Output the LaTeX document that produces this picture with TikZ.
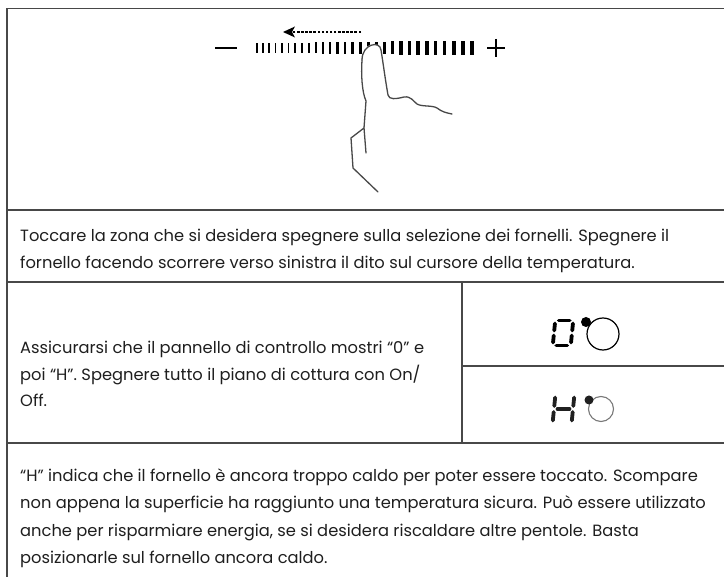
\documentclass[tikz,border=0pt]{standalone}
\usepackage{fontspec}
\setmainfont{Poppins}

\definecolor{ruleclr}{RGB}{72,72,72}
\definecolor{textclr}{RGB}{30,30,30}
\definecolor{ringgrey}{RGB}{120,120,120}

\tikzset{
  rule/.style={ruleclr,line width=1.4pt},
  txt/.style={anchor=base west,inner sep=0pt,text=textclr,font=\fontsize{16.3}{27}\selectfont},
  seg/.style={line width=3.8pt,line cap=round},
  hand/.style={line width=1.3pt,ruleclr,line cap=round,line join=round}
}

\begin{document}
\begin{tikzpicture}[x=1pt,y=-1pt]
  \useasboundingbox (0,0) rectangle (724,577);

  % table rules
  \draw[rule] (7,8.5) -- (724,8.5);
  \draw[rule] (7,8.5) -- (7,577);
  \draw[rule] (7,210) -- (724,210);
  \draw[rule] (7,282) -- (724,282);
  \draw[rule] (7,443) -- (724,443);
  \draw[rule] (462,282) -- (462,443);
  \draw[rule] (462,366) -- (724,366);

  % slider: minus, bars, plus
  \draw[line width=2pt] (215,48) -- (237,48);
  \foreach \i in {0,...,28}{
    \pgfmathsetmacro\bx{257+6*\i+0.06*\i*\i}
    \pgfmathsetmacro\bw{1.3+0.1*\i}
    \pgfmathsetmacro\bh{4.6+0.1*\i}
    \fill (\bx-\bw/2,48-\bh) rectangle (\bx+\bw/2,48+\bh);
  }
  \draw[line width=1.3pt] (487,48) -- (505,48);
  \draw[line width=1.3pt] (496,39) -- (496,57);

  % dashed arrow to the left
  \draw[line width=1.3pt,dash pattern=on 2.5pt off 1.6pt] (361,32) -- (292,32);
  \fill (283,32) -- (295,26.5) -- (292,32) -- (295,37.5) -- cycle;

  % finger
  \fill[white] (362,56) .. controls (362,44) and (380,40) .. (381,50) -- (384,60) -- (364,60) -- cycle;
  \draw[hand] (362,60) .. controls (362,44) and (380,40) .. (381,50)
    .. controls (383,62) and (385,78) .. (388,95)
    .. controls (389,100) and (396,99) .. (404,97)
    .. controls (411,96) and (413,101) .. (417,104)
    .. controls (422,107) and (432,105) .. (437,108)
    .. controls (442,112) and (447,113) .. (452,114);
  \draw[hand] (362,60) .. controls (361,75) and (362,92) .. (366,101)
    -- (364,128) -- (366,153);
  \draw[hand] (364,128) -- (351,138) -- (353,168) -- (378,192);

  % "0" digit and ring
  \begin{scope}[shift={(554,333)},xslant=0.1]
    \draw[seg] (3.5,-12.5) -- (14.5,-12.5);
    \draw[seg] (3.5,12.5) -- (14.5,12.5);
    \draw[seg] (0,-9.5) -- (0,-2.5);
    \draw[seg] (0,2.5) -- (0,9.5);
    \draw[seg] (18,-9.5) -- (18,-2.5);
    \draw[seg] (18,2.5) -- (18,9.5);
  \end{scope}
  \draw[line width=1.2pt] (603,334) circle (16);
  \fill (586,322) circle (5);

  % "H" digit and ring
  \begin{scope}[shift={(554,409)},xslant=0.1,gray!25!black]
    \draw[seg] (0,-11.5) -- (0,-3);
    \draw[seg] (0,3) -- (0,11.5);
    \draw[seg] (19,-11.5) -- (19,-3);
    \draw[seg] (19,3) -- (19,11.5);
    \draw[seg] (3.5,0) -- (15.5,0);
  \end{scope}
  \draw[ringgrey,line width=1.1pt] (601,409) circle (12.5);
  \fill[gray!25!black] (589,400) circle (4.5);

  % texts
  \node[txt] (touch1) at (20,242) {Toccare la zona che si desidera spegnere sulla selezione dei fornelli. Spegnere il};
  \node[txt] (touch2) at (20,269) {fornello facendo scorrere verso sinistra il dito sul cursore della temperatura.};
  \node[txt] (check1) at (20,354) {Assicurarsi che il pannello di controllo mostri “0” e};
  \node[txt] (check2) at (20,381) {poi “H”. Spegnere tutto il piano di cottura con On/};
  \node[txt] (check3) at (20,407) {Off.};
  \node[txt] (hot1) at (20,482) {“H” indica che il fornello è ancora troppo caldo per poter essere toccato. Scompare};
  \node[txt] (hot2) at (20,509) {non appena la superficie ha raggiunto una temperatura sicura. Può essere utilizzato};
  \node[txt] (hot3) at (20,537) {anche per risparmiare energia, se si desidera riscaldare altre pentole. Basta};
  \node[txt] (hot4) at (20,564) {posizionarle sul fornello ancora caldo.};
\end{tikzpicture}
\end{document}
